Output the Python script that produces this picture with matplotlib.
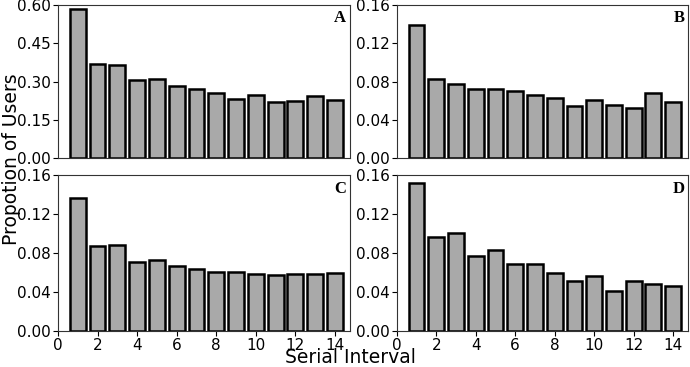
import matplotlib
matplotlib.use('Agg')
import matplotlib.pyplot as plt
import numpy as np

# serial interval bins
intervals = np.arange(1, 15)

panel_a = [0.584, 0.369, 0.364, 0.308, 0.310, 0.283, 0.273, 0.257, 0.231, 0.247, 0.222, 0.225, 0.242, 0.227]
panel_b = [0.139, 0.083, 0.078, 0.072, 0.072, 0.0705, 0.066, 0.063, 0.055, 0.061, 0.056, 0.052, 0.068, 0.059]
panel_c = [0.136, 0.087, 0.088, 0.071, 0.073, 0.067, 0.064, 0.061, 0.061, 0.059, 0.057, 0.059, 0.058, 0.060]
panel_d = [0.152, 0.096, 0.101, 0.077, 0.083, 0.069, 0.069, 0.060, 0.051, 0.056, 0.041, 0.051, 0.048, 0.046]

panels = [panel_a, panel_b, panel_c, panel_d]
letters = ['A', 'B', 'C', 'D']
yticks = [[0.00, 0.15, 0.30, 0.45, 0.60],
          [0.00, 0.04, 0.08, 0.12, 0.16],
          [0.00, 0.04, 0.08, 0.12, 0.16],
          [0.00, 0.04, 0.08, 0.12, 0.16]]

fig = plt.figure(figsize=(6.9, 3.67), dpi=100)
boxes = [[0.084, 0.569, 0.423, 0.417],
         [0.575, 0.569, 0.422, 0.417],
         [0.084, 0.098, 0.423, 0.425],
         [0.575, 0.098, 0.422, 0.425]]

for i in range(4):
    ax = fig.add_axes(boxes[i])
    ax.bar(intervals, panels[i], width=0.8, color='#a9a9a9', edgecolor='black', linewidth=1.8)
    ax.set_xlim(0, 14.75)
    ax.set_ylim(0, yticks[i][-1])
    ax.set_yticks(yticks[i])
    ax.set_yticklabels(['%.2f' % t for t in yticks[i]])
    ax.set_xticks([0, 2, 4, 6, 8, 10, 12, 14])
    if i < 2:
        ax.set_xticklabels([])
        ax.tick_params(axis='x', length=0)
    ax.tick_params(labelsize=11, pad=1.5)
    for s in ax.spines.values():
        s.set_color('#333333')
    ax.text(0.988, 0.965, letters[i], transform=ax.transAxes, ha='right', va='top',
            fontsize=12, fontweight='bold', family='Liberation Serif')

fig.text(0.003, 0.565, 'Propotion of Users', rotation=90, ha='left', va='center', fontsize=13.5)
fig.text(0.508, 0.001, 'Serial Interval', ha='center', va='bottom', fontsize=13.5)

fig.savefig('out.png', dpi=100)
